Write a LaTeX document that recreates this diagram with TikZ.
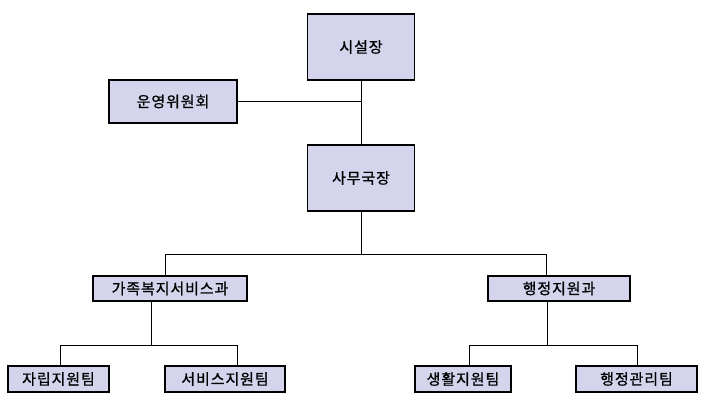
\documentclass[tikz,border=0pt]{standalone}
\usepackage{fontspec}
\newfontfamily\krfont[LetterSpace=6,FakeBold=0.8]{Noto Sans CJK KR}
\usetikzlibrary{calc}
\definecolor{unitfill}{RGB}{212,212,236}
\tikzset{
  unit/.style={draw,fill=unitfill,line width=1.1pt,inner sep=0pt,
    font=\krfont\fontsize{15}{17}\selectfont},
  link/.style={line width=1pt}
}

\begin{document}
\begin{tikzpicture}[x=1pt,y=-1pt]
\useasboundingbox (0,0) rectangle (701,402);

% Top level
\node[unit,minimum width=107pt,minimum height=66pt] (sisul) at (361,47) {시설장};
\node[unit,minimum width=128pt,minimum height=43pt] (unyeong) at (173,101.5) {운영위원회};
\node[unit,minimum width=107pt,minimum height=66pt] (samu) at (361,178) {사무국장};

% Departments
\node[unit,minimum width=154pt,minimum height=25pt] (gajok) at (170,288.5) {가족복지서비스과};
\node[unit,minimum width=142pt,minimum height=25pt] (haengjeong) at (559,288.5) {행정지원과};

% Teams
\node[unit,minimum width=101pt,minimum height=26pt] (jarip) at (58.5,379) {자립지원팀};
\node[unit,minimum width=120pt,minimum height=26pt] (service) at (225,379) {서비스지원팀};
\node[unit,minimum width=96pt,minimum height=26pt] (saenghwal) at (463,379) {생활지원팀};
\node[unit,minimum width=121pt,minimum height=26pt] (gwanri) at (636.5,379) {행정관리팀};

% Director to secretary general, committee at the side
\draw[link] (sisul.south) -- (samu.north);
\draw[link] (unyeong.east) -- (unyeong.east -| sisul.south);

% Bus to departments
\coordinate (bus) at (361,254);
\coordinate (gtop) at (165,276);
\coordinate (htop) at (546,276);
\draw[link] (samu.south) -- (bus);
\draw[link] (bus) -| (gtop);
\draw[link] (bus) -| (htop);

% Teams under 가족복지서비스과
\coordinate (gbus) at (151,345);
\coordinate (jtop) at (60,366);
\coordinate (stop) at (237,366);
\draw[link] (gbus |- gajok.south) -- (gbus);
\draw[link] (gbus) -| (jtop);
\draw[link] (gbus) -| (stop);

% Teams under 행정지원과
\coordinate (hbus) at (547,345);
\coordinate (swtop) at (469,366);
\coordinate (gwtop) at (637,366);
\draw[link] (hbus |- haengjeong.south) -- (hbus);
\draw[link] (hbus) -| (swtop);
\draw[link] (hbus) -| (gwtop);

\end{tikzpicture}
\end{document}
